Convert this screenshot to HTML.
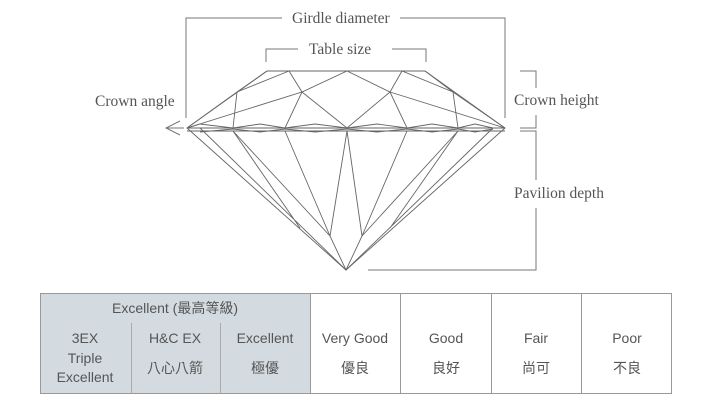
<!DOCTYPE html>
<html><head><meta charset="utf-8"><style>
body{margin:0;background:#fff;width:710px;height:412px;overflow:hidden;position:relative;font-family:"Liberation Sans","Noto Sans CJK TC",sans-serif}
svg{position:absolute;left:0;top:0}
</style></head><body>
<svg width="710" height="412" viewBox="0 0 710 412">
<g fill="none" stroke="#777" stroke-width="1">
<path d="M186,118V18H282M400,18H505V118"/>
<path d="M266,62V49H298M392,49H426V62"/>
<path d="M520,71H536V88M536,115V128H520"/>
<path d="M520,131H536V180M536,208V270H368"/>
<path d="M180,121L166,128L180,135M166,128H184"/>
</g>
<g fill="none" stroke="#666" stroke-width="0.9">
<path d="M267,71H425L505,128L346,270L187,128Z"/>
<path d="M187,128H505M187,131H505"/>
<path d="M267,71L237,92L187,128M237,92L233,128M289,71L237,92M289,71L302,92L347,71L390,92L402,71L453,92L425,71M453,92L505,128M453,92L458,128"/>
<path d="M187,128L302,92L285,128M302,92L347,128L390,92L407,128M390,92L505,128"/>
<path d="M200,128L346,270M233,131L330,236L346,270L362,236L458,131M285,131L330,236M347,131L330,236M347,131L362,236M407,131L362,236M493,128L346,270M233,131L300,228M458,131L390,228"/>
<path d="M187,128L200,124L233,128L260,124L285,128L315,124L347,128L377,124L407,128L432,124L458,128L475,124L493,128L505,128M200,132L233,129L260,132L285,129L315,132L347,129L377,132L407,129L432,132L458,129L475,132L493,129"/>
</g>
<g font-family="Liberation Serif,serif" font-size="15.5" fill="#555">
<text x="292" y="23">Girdle diameter</text>
<text x="309" y="54">Table size</text>
<text x="95" y="106">Crown angle</text>
<text x="514" y="105">Crown height</text>
<text x="514" y="198">Pavilion depth</text>
</g>
<rect x="40.5" y="293.5" width="270" height="100" fill="#d3dbe0"/>
<g fill="none" stroke="#999" stroke-width="1">
<rect x="40.5" y="293.5" width="631" height="100"/>
<path d="M310.5,293.5V393.5M400.5,293.5V393.5M491.5,293.5V393.5M581.5,293.5V393.5"/>
<path d="M131.5,323V393.5M220.5,323V393.5" stroke="#aaa"/>
</g>
<g font-size="14" fill="#555" text-anchor="middle">
<text x="175" y="313">Excellent (最高等級)</text>
<text x="85" y="343">3EX</text>
<text x="175" y="343">H&amp;C EX</text>
<text x="265" y="343">Excellent</text>
<text x="355" y="343">Very Good</text>
<text x="446" y="343">Good</text>
<text x="536" y="343">Fair</text>
<text x="627" y="343">Poor</text>
<text x="85" y="363">Triple</text>
<text x="85" y="382">Excellent</text>
<text x="175" y="373">八心八箭</text>
<text x="265" y="373">極優</text>
<text x="355" y="373">優良</text>
<text x="446" y="373">良好</text>
<text x="536" y="373">尚可</text>
<text x="627" y="373">不良</text>
</g>
</svg>
</body></html>
